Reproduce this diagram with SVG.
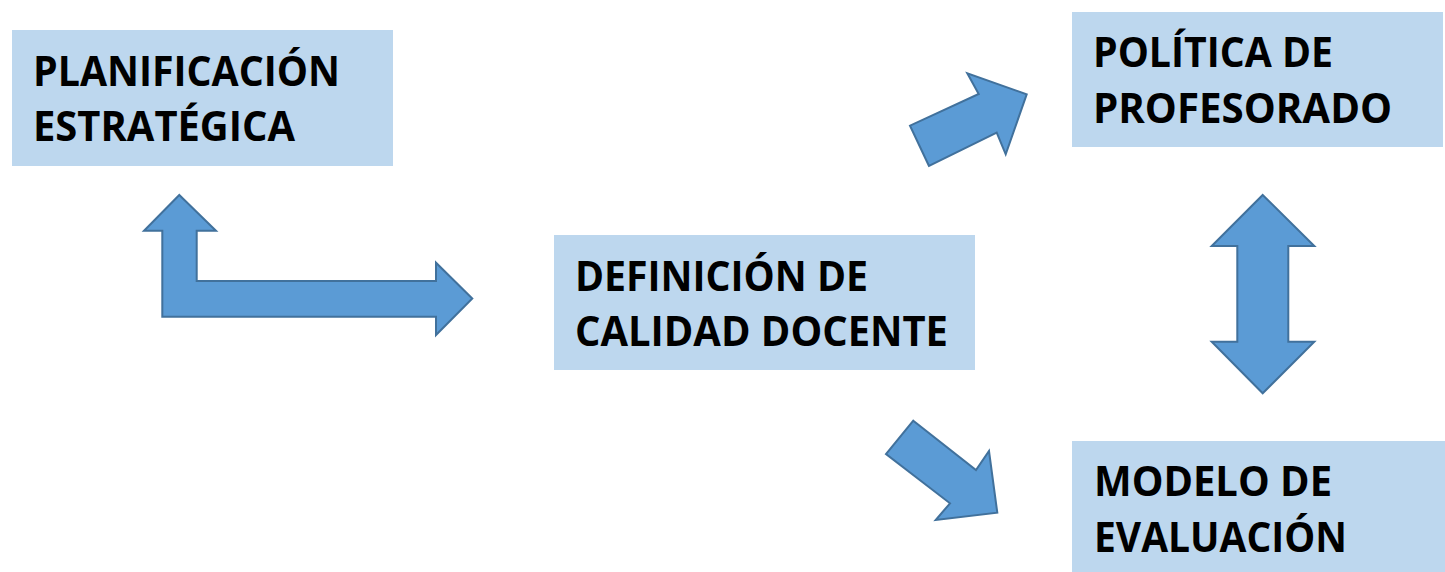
<svg xmlns="http://www.w3.org/2000/svg" width="1445" height="572" viewBox="0 0 1445 572">
<style>
.box{fill:#BDD7EE}
.t{font-family:"Open Sans","Liberation Sans",sans-serif;font-weight:bold;font-size:41px;fill:#000}
.arr{fill:#5B9BD5;stroke:#41719C;stroke-width:2;stroke-linejoin:miter}
</style>
<rect width="1445" height="572" fill="#fff"/>
<g id="planificacion">
<rect class="box" x="12" y="30" width="381" height="136"/>
<text class="t" x="33" y="85.5" textLength="307" lengthAdjust="spacingAndGlyphs">PLANIFICACIÓN</text>
<text class="t" x="33" y="141" textLength="262" lengthAdjust="spacingAndGlyphs">ESTRATÉGICA</text>
</g>
<g id="politica">
<rect class="box" x="1072" y="12" width="371" height="135"/>
<text class="t" x="1093" y="67.3" textLength="240" lengthAdjust="spacingAndGlyphs">POLÍTICA DE</text>
<text class="t" x="1093" y="123" textLength="299" lengthAdjust="spacingAndGlyphs">PROFESORADO</text>
</g>
<g id="definicion">
<rect class="box" x="554" y="235" width="421" height="135"/>
<text class="t" x="575" y="290.7" textLength="293" lengthAdjust="spacingAndGlyphs">DEFINICIÓN DE</text>
<text class="t" x="575" y="346" textLength="373" lengthAdjust="spacingAndGlyphs">CALIDAD DOCENTE</text>
</g>
<g id="modelo">
<rect class="box" x="1072" y="441" width="373" height="131"/>
<text class="t" x="1094" y="496" textLength="238" lengthAdjust="spacingAndGlyphs">MODELO DE</text>
<text class="t" x="1094" y="551.5" textLength="253" lengthAdjust="spacingAndGlyphs">EVALUACIÓN</text>
</g>
<g id="connectors">
<path class="arr" d="M179.3,195 L216,230.7 L196.7,230.7 L196.7,281 L436,281 L436,262.7 L472.3,298.5 L436,335 L436,316.7 L162.3,316.7 L162.3,230.7 L144,230.7 Z"/>
<path class="arr" d="M929,166 L910,125.7 L978.7,94 L967.3,73.3 L1026.7,94.3 L1005.7,154.3 L996.7,132.7 Z"/>
<path class="arr" d="M913.3,420.7 L976,470 L989,451 L997.3,512.7 L935.7,520 L950,503.3 L886,454 Z"/>
<path class="arr" d="M1262.7,195 L1314.3,246 L1288.3,246 L1288.3,341.7 L1314.3,341.7 L1262.7,393.3 L1211.7,341.7 L1237.3,341.7 L1237.3,246 L1211.7,246 Z"/>
</g>
</svg>
